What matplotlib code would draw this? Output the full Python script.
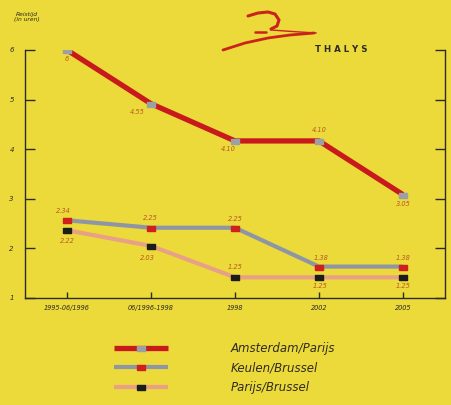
import matplotlib.pyplot as plt

periods = ["1995-06/1996", "06/1996-1998", "1998", "2002", "2005"]

# travel times as printed (hours.minutes)
ams_par = ["6", "4.55", "4.10", "4.10", "3.05"]
keu_bru = ["2.34", "2.25", "2.25", "1.38", "1.38"]
par_bru = ["2.22", "2.03", "1.25", "1.25", "1.25"]

series_names = ["Amsterdam/Parijs", "Keulen/Brussel", "Parijs/Brussel"]


def to_hours(label):
    parts = label.split(".")
    h = int(parts[0])
    m = int(parts[1]) if len(parts) > 1 else 0
    return h + m / 60.0


bg = "#ecd93a"
lbl_col = "#b85a24"
txt_col = "#2e2c22"

fig = plt.figure(figsize=(4.52, 4.05), dpi=100, facecolor=bg)
ax = fig.add_axes([25 / 452, 107 / 405, 420 / 452, 248 / 405])
ax.set_facecolor(bg)

rect = [(-1, -0.6), (1, -0.6), (1, 0.6), (-1, 0.6), (-1, -0.6)]

x = list(range(len(periods)))
styles = [
    dict(color="#c81a1c", lw=3.8, mfc="#9aa0a4"),
    dict(color="#8e96a6", lw=3.0, mfc="#d0201c"),
    dict(color="#e8a086", lw=3.0, mfc="#1c1c18"),
]
all_data = [ams_par, keu_bru, par_bru]
handles = []
for name, labels, st in zip(series_names, all_data, styles):
    vals = [to_hours(v) for v in labels]
    ln, = ax.plot(x, vals, color=st["color"], lw=st["lw"], marker=rect,
                  ms=6, mfc=st["mfc"], mec=st["mfc"],
                  solid_capstyle="butt", zorder=3)
    handles.append(ln)

# label offsets in pixels
offsets = [
    [(0, -9), (-14, -8), (-7, -8), (0, 11), (0, -9)],
    [(-4, 9), (-1, 10), (0, 9), (2, 9), (0, 9)],
    [(0, -11), (-4, -12), (0, 10), (1, -9), (0, -9)],
]
for labels, offs in zip(all_data, offsets):
    for i, (lab, off) in enumerate(zip(labels, offs)):
        ax.annotate(lab, (i, to_hours(lab)), xytext=off, textcoords="offset pixels",
                    ha="center", va="center", fontsize=4.8, style="italic",
                    color=lbl_col, zorder=4)

ax.set_xlim(-0.5, 4.5)
ax.set_ylim(1, 6)
ax.set_xticks(x)
ax.set_xticklabels(periods, fontsize=4.7, style="italic", color=txt_col)
ax.set_yticks([1, 2, 3, 4, 5, 6])
ax.set_yticklabels(["1", "2", "3", "4", "5", "6"], fontsize=5, style="italic",
                   color=txt_col)
ax.tick_params(axis="both", direction="in", length=7, width=1, color=txt_col,
               pad=6)
ax.tick_params(axis="y", right=True, pad=8)
ax.tick_params(axis="x", length=4, pad=5)
ax.spines["top"].set_visible(False)
for s in ["left", "right", "bottom"]:
    ax.spines[s].set_color(txt_col)
    ax.spines[s].set_linewidth(1.0)

fig.text(27 / 452, 1 - 17 / 405, "Reistijd\n(in uren)", ha="center", va="center",
         fontsize=4.3, style="italic", color=txt_col, linespacing=1.1)

# Thalys logo
deco = fig.add_axes([0, 0, 1, 1], facecolor="none")
deco.set_xlim(0, 452)
deco.set_ylim(405, 0)
deco.axis("off")
red = "#c8241c"
deco.plot([223, 245, 268, 290, 314], [50, 43, 38, 35, 33], color=red, lw=2.0,
          solid_capstyle="round")
deco.plot([248, 258, 268, 275, 279, 277, 271], [16, 13, 12, 14, 20, 26, 29],
          color=red, lw=2.2, solid_capstyle="round")
deco.plot([255, 266], [32, 32], color=red, lw=1.8, solid_capstyle="round")
deco.plot([271, 285, 300, 316], [30, 31, 32, 33], color=red, lw=1.0)
deco.text(341, 49, "T H A L Y S", ha="center", va="center", fontsize=6.2,
          color="#2c2c28", fontweight="bold")

leg = fig.legend(handles, series_names, loc="upper left",
                 bbox_to_anchor=(114 / 452, 1 - 342 / 405), frameon=False,
                 handlelength=4.6, handletextpad=5.3, labelspacing=0.55,
                 numpoints=1, borderpad=0, borderaxespad=0,
                 prop=dict(size=8.5, style="italic"))
for t in leg.get_texts():
    t.set_color(txt_col)

fig.savefig("out.png", dpi=100, facecolor=bg)
